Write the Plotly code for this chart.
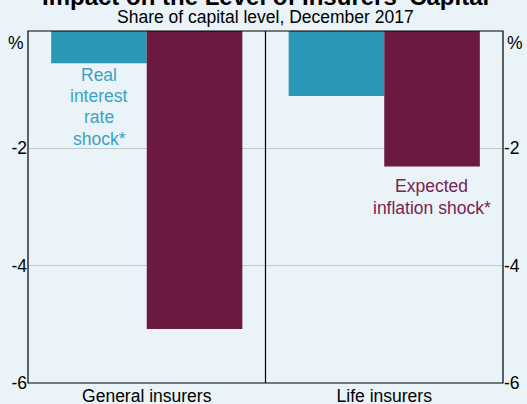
import plotly.graph_objects as go

categories = ["General insurers", "Life insurers"]
real_rate_shock = [-0.55, -1.11]
inflation_shock = [-5.08, -2.31]
tick_vals = [0, -2, -4, -6]
tick_text = ["", "-2", "-4", "-6"]
real_label = ["Real", "interest", "rate", "shock*"]
inflation_label = ["Expected", "inflation shock*"]

BLUE = "#2b97b7"
MAROON = "#6c1a42"
BG = "#eaf3f7"
FONT = "Arial, Liberation Sans, sans-serif"
FS = 17.5

fig = go.Figure()
fig.add_trace(go.Bar(x=categories, y=real_rate_shock, marker_color=BLUE, marker_line_width=0, name="Real interest rate shock*"))
fig.add_trace(go.Bar(x=categories, y=inflation_shock, marker_color=MAROON, marker_line_width=0, name="Expected inflation shock*"))
# invisible trace so the right-hand axis gets drawn
fig.add_trace(go.Scatter(x=categories, y=[None, None], yaxis="y2", showlegend=False, hoverinfo="skip"))

axis_common = dict(range=[-6, 0], tickvals=tick_vals, ticktext=tick_text,
                   gridcolor="#c4c8c9", gridwidth=1, zeroline=False, ticks="", automargin=False,
                   tickfont=dict(size=FS, color="black", family=FONT), showline=False)

fig.update_layout(
    width=527, height=404,
    margin=dict(l=28, r=24, t=31, b=21, autoexpand=False),
    paper_bgcolor=BG, plot_bgcolor=BG,
    barmode="group", bargap=0.195, bargroupgap=0,
    showlegend=False,
    font=dict(family=FONT, color="black"),
    xaxis=dict(showgrid=False, ticks="", tickfont=dict(size=FS), showline=False, automargin=False),
    yaxis=dict(showgrid=True, **axis_common),
    yaxis2=dict(overlaying="y", side="right", showgrid=False, **axis_common),
)

# frame and divider
fig.add_shape(type="rect", xref="paper", yref="paper", x0=0, x1=1, y0=0, y1=1, line=dict(color="black", width=1.2), layer="above")
fig.add_shape(type="line", xref="x", yref="paper", x0=0.5, x1=0.5, y0=0, y1=1, line=dict(color="black", width=1.2), layer="above")

# title sits mostly above the visible page, as in the original crop
fig.add_annotation(text="<b>Impact on the Level of Insurers' Capital</b>", xref="paper", yref="paper", x=0.5, y=1,
                   yshift=35, showarrow=False, font=dict(size=24), yanchor="middle")
fig.add_annotation(text="Share of capital level, December 2017", xref="paper", yref="paper", x=0.5, y=1, yshift=14,
                   showarrow=False, font=dict(size=FS), yanchor="middle")
fig.add_annotation(text="%", xref="paper", yref="paper", x=0, y=1, xanchor="right", yanchor="top", xshift=-2,
                   showarrow=False, font=dict(size=FS))
fig.add_annotation(text="%", xref="paper", yref="paper", x=1, y=1, xanchor="left", yanchor="top", xshift=2,
                   showarrow=False, font=dict(size=FS))

# bar labels, one annotation per line to get the tighter line spacing
for i, line in enumerate(real_label):
    fig.add_annotation(text=line, x=-0.2, xref="x", y=-0.75, yref="y", yshift=-21.2 * i,
                       yanchor="middle", showarrow=False, font=dict(size=FS, color="#3aa2c6"))
for i, line in enumerate(inflation_label):
    fig.add_annotation(text=line, x=1.2, xref="x", y=-2.65, yref="y", yshift=-21.5 * i,
                       yanchor="middle", showarrow=False, font=dict(size=FS, color="#7a2352"))

fig.write_html("out.html", config={"displayModeBar": False},
               post_script="document.body.style.margin='0';")
